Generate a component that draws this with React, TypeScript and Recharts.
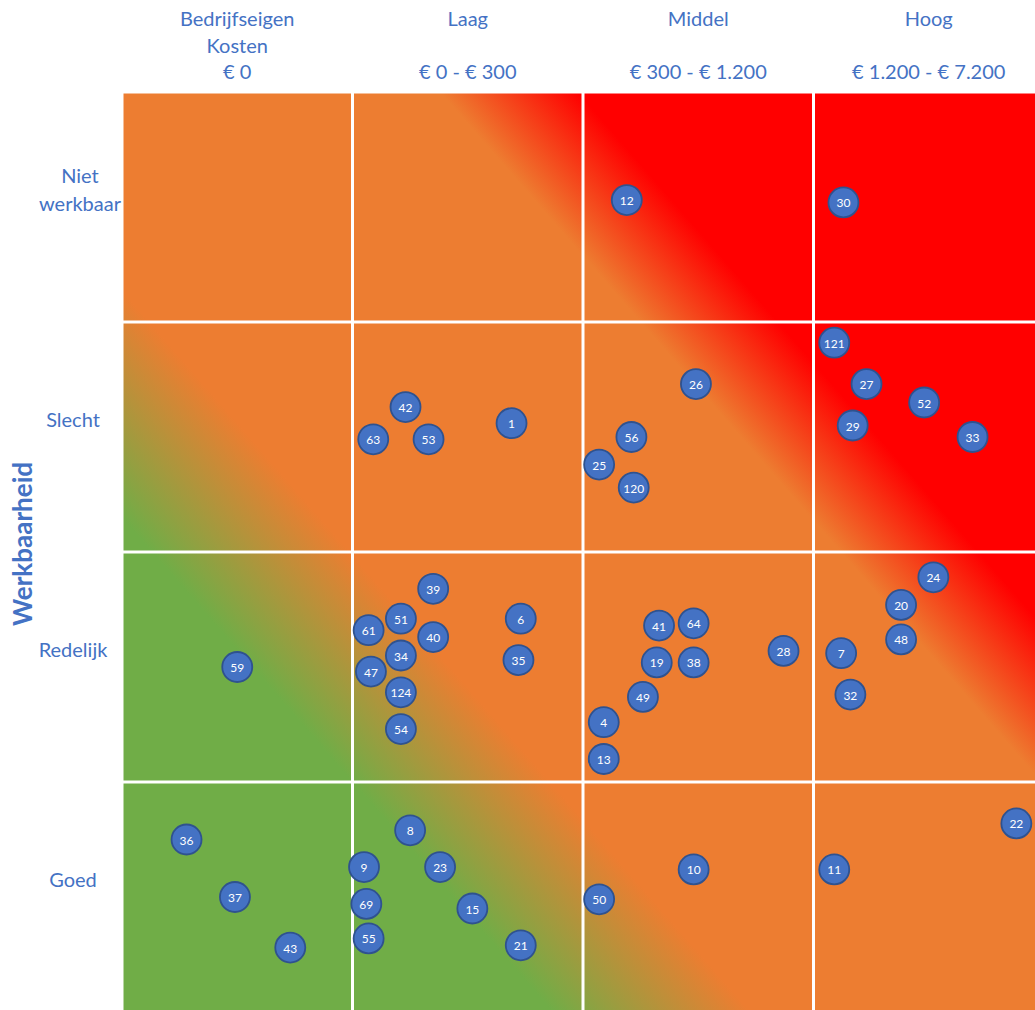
import { ScatterChart, Scatter, XAxis, YAxis, ReferenceArea, ReferenceLine } from 'recharts';

// kostencategorieen (boven) en werkbaarheid (links, van onder naar boven)
const costCategories = [
  ['Bedrijfseigen', 'Kosten', '€ 0'],
  ['Laag', '', '€ 0 - € 300'],
  ['Middel', '', '€ 300 - € 1.200'],
  ['Hoog', '', '€ 1.200 - € 7.200'],
];
const workCategories = [['Goed'], ['Redelijk'], ['Slecht'], ['Niet', 'werkbaar']];
const categoryTicks = [0.5, 1.5, 2.5, 3.5];
const cellBorders = [0, 1, 2, 3, 4];

// [nummer, kostenpositie, werkbaarheidspositie]
const nietWerkbaarPoints = [
  [12, 2.19, 3.53],
  [30, 3.13, 3.52],
];
const slechtPoints = [
  [121, 3.09, 2.91], [27, 3.23, 2.73], [52, 3.48, 2.65], [29, 3.17, 2.55], [33, 3.69, 2.5],
  [26, 2.49, 2.73], [56, 2.21, 2.5], [25, 2.07, 2.38], [120, 2.22, 2.28],
  [42, 1.23, 2.63], [63, 1.09, 2.49], [53, 1.33, 2.49], [1, 1.69, 2.56],
];
const redelijkPoints = [
  [39, 1.35, 1.84], [6, 1.73, 1.71], [61, 1.07, 1.66], [51, 1.21, 1.71], [40, 1.35, 1.63],
  [34, 1.21, 1.55], [35, 1.72, 1.53], [47, 1.08, 1.48], [124, 1.21, 1.39], [54, 1.21, 1.23],
  [59, 0.5, 1.5],
  [41, 2.33, 1.68], [64, 2.48, 1.69], [19, 2.32, 1.52], [38, 2.48, 1.52], [28, 2.87, 1.57],
  [49, 2.26, 1.37], [4, 2.09, 1.26], [13, 2.09, 1.1],
  [24, 3.52, 1.89], [20, 3.38, 1.77], [48, 3.38, 1.62], [7, 3.12, 1.56], [32, 3.16, 1.38],
];
const goedPoints = [
  [36, 0.28, 0.75], [37, 0.49, 0.5], [43, 0.73, 0.28],
  [8, 1.25, 0.79], [9, 1.05, 0.63], [23, 1.38, 0.63], [69, 1.06, 0.47], [15, 1.52, 0.45],
  [55, 1.07, 0.32], [21, 1.73, 0.29],
  [50, 2.07, 0.49], [10, 2.48, 0.62], [11, 3.09, 0.62], [22, 3.88, 0.82],
];

const data = [...nietWerkbaarPoints, ...slechtPoints, ...redelijkPoints, ...goedPoints].map(
  ([id, x, y]) => ({ id, x, y })
);

const BLUE = '#4472C4';
const FONT = 'Lato, "Noto Sans", sans-serif';

const CostTick = ({ x, payload }: any) => {
  const lines = costCategories[Math.floor(payload.value)];
  const rows = [18, 45, 71];
  return (
    <g>
      {lines.map((l, i) => (
        <text key={i} x={x} y={rows[i]} textAnchor="middle" dominantBaseline="central"
          fill={BLUE} fontSize={20} fontFamily={FONT}>{l}</text>
      ))}
    </g>
  );
};

const WorkTick = ({ y, payload }: any) => {
  const lines = workCategories[Math.floor(payload.value)];
  const cx = lines.length > 1 ? 80 : 73;
  const cy = y - 18;
  return (
    <g>
      {lines.map((l, i) => (
        <text key={i} x={cx} y={cy + (i - (lines.length - 1) / 2) * 28} textAnchor="middle"
          dominantBaseline="central" fill={BLUE} fontSize={20} fontFamily={FONT}>{l}</text>
      ))}
    </g>
  );
};

const Bubble = ({ cx, cy, payload }: any) => (
  <g>
    <circle cx={cx} cy={cy} r={15} fill="#4472C4" stroke="#2F528F" strokeWidth={1.8} />
    <text x={cx} y={cy + 0.5} textAnchor="middle" dominantBaseline="central" fill="#fff"
      fontSize={12} fontFamily={FONT}>{payload.id}</text>
  </g>
);

export default function App() {
  return (
    <div style={{ position: 'absolute', left: 0, top: 0, width: 1035, height: 1010, overflow: 'hidden', background: '#fff' }}>
      <ScatterChart width={1050} height={1020} margin={{ top: 0, right: 6, bottom: 8, left: 0 }}>
        <defs>
          <linearGradient id="riskGrad" x1="0" y1="1" x2="1.064" y2="0.075">
            <stop offset="0.25" stopColor="#70AD47" />
            <stop offset="0.365" stopColor="#ED7D31" />
            <stop offset="0.65" stopColor="#ED7D31" />
            <stop offset="0.73" stopColor="#FF0000" />
          </linearGradient>
        </defs>
        <XAxis type="number" dataKey="x" orientation="top" domain={[0, 4]} ticks={categoryTicks}
          height={92} axisLine={false} tickLine={false} tick={<CostTick />} interval={0} />
        <YAxis type="number" dataKey="y" domain={[0, 4]} ticks={categoryTicks} width={122}
          axisLine={false} tickLine={false} tick={<WorkTick />} interval={0}
          label={({ viewBox }: any) => (
            <text x={22} y={viewBox.y + viewBox.height / 2 - 8} transform={`rotate(-90, 22, ${viewBox.y + viewBox.height / 2 - 8})`}
              textAnchor="middle" dominantBaseline="central" fill={BLUE} fontSize={26}
              fontWeight="bold" fontFamily={FONT}>Werkbaarheid</text>
          )} />
        <ReferenceArea x1={0} x2={4} y1={0} y2={4} fill="url(#riskGrad)" fillOpacity={1} stroke="none" />
        {cellBorders.map((v) => (
          <ReferenceLine key={`v${v}`} x={v} stroke="#fff" strokeWidth={3} />
        ))}
        {cellBorders.map((v) => (
          <ReferenceLine key={`h${v}`} y={v} stroke="#fff" strokeWidth={3} />
        ))}
        <Scatter data={data} shape={<Bubble />} isAnimationActive={false} />
      </ScatterChart>
    </div>
  );
}
